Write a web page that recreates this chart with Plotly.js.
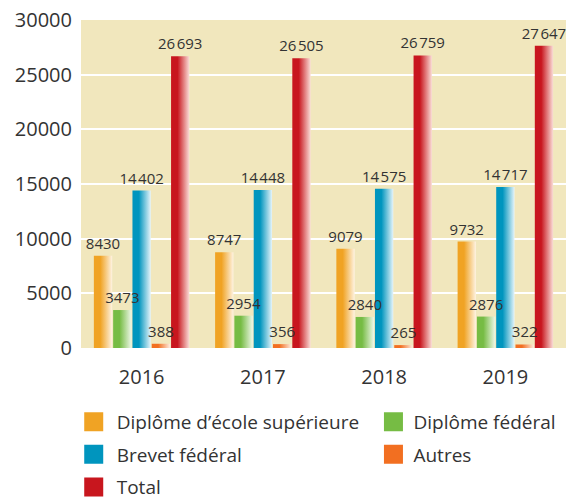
<!DOCTYPE html>
<html><head><meta charset="utf-8">
<script src="https://cdn.plot.ly/plotly-3.0.1.min.js"></script>
<style>html,body{margin:0;padding:0;background:#fff}</style>
</head><body>
<div id="chart" style="width:567px;height:499px"></div>
<script>
const years = ['2016', '2017', '2018', '2019'];
const seriesNames = ['Diplôme d’école supérieure', 'Diplôme fédéral', 'Brevet fédéral', 'Autres', 'Total'];
const ecoleSup = [8430, 8747, 9079, 9732];
const dipFederal = [3473, 2954, 2840, 2876];
const brevet = [14402, 14448, 14575, 14717];
const autres = [388, 356, 265, 322];
const total = [26693, 26505, 26759, 27647];
const yTicks = [0, 5000, 10000, 15000, 20000, 25000, 30000];

const colors = ['#F0A324', '#76BC44', '#0095BE', '#F26F21', '#C8161E'];
const lightColors = ['#FEF3E2', '#EFF7E8', '#E6F4FA', '#FDEBDF', '#FADDD7'];
const seriesValues = [ecoleSup, dipFederal, brevet, autres, total];
const legendOf = ['legend', 'legend2', 'legend', 'legend2', 'legend'];

function fmt(v) {
  const s = String(v);
  return v >= 10000 ? s.slice(0, s.length - 3) + '\u200A' + s.slice(-3) : s;
}

const traces = seriesValues.map((vals, i) => ({
  type: 'bar',
  name: seriesNames[i],
  x: years,
  y: vals,
  text: vals.map(fmt),
  textposition: 'outside',
  constraintext: 'none',
  cliponaxis: false,
  textfont: {family: 'Open Sans', size: 15, color: '#333333'},
  marker: {color: colors[i], line: {width: 0}},
  legend: legendOf[i],
  legendgroup: 'g' + i,
  hoverinfo: 'none'
}));

const layout = {
  width: 567, height: 499,
  margin: {l: 81, r: 1, t: 20, b: 151, pad: 0, autoexpand: false},
  paper_bgcolor: '#ffffff',
  plot_bgcolor: '#F1E7BD',
  font: {family: 'Open Sans', color: '#333333'},
  barmode: 'group',
  bargap: 0.204,
  bargroupgap: 0.05,
  showlegend: true,
  xaxis: {
    type: 'category',
    tickfont: {size: 20, color: '#333333'},
    ticks: '', showgrid: false, zeroline: false, showline: false,
    ticklabelstandoff: 15
  },
  yaxis: {
    range: [0, 30000],
    tickvals: yTicks,
    ticktext: yTicks.map(String),
    tickfont: {size: 20, color: '#333333'},
    ticks: '', showgrid: true, gridcolor: '#ffffff', gridwidth: 2,
    zeroline: false, showline: false,
    ticklabelstandoff: 8
  },
  legend: {
    x: -0.015, xanchor: 'left', y: -0.167, yanchor: 'top',
    orientation: 'v', font: {size: 19, color: '#333333'},
    tracegroupgap: 5, bgcolor: 'rgba(0,0,0,0)'
  },
  legend2: {
    x: 0.603, xanchor: 'left', y: -0.167, yanchor: 'top',
    orientation: 'v', font: {size: 19, color: '#333333'},
    tracegroupgap: 5, bgcolor: 'rgba(0,0,0,0)'
  }
};

const gd = document.getElementById('chart');
Plotly.newPlot(gd, traces, layout, {displayModeBar: false, staticPlot: true}).then(() => {
  const svg = gd.querySelector('svg.main-svg');
  let defs = svg.querySelector('defs');
  const NS = 'http://www.w3.org/2000/svg';
  colors.forEach((c, i) => {
    const lg = document.createElementNS(NS, 'linearGradient');
    lg.setAttribute('id', 'barGrad' + i);
    lg.setAttribute('x1', '0'); lg.setAttribute('y1', '0');
    lg.setAttribute('x2', '1'); lg.setAttribute('y2', '0');
    [[0, c], [0.35, c], [1, lightColors[i]]].forEach(([o, col]) => {
      const st = document.createElementNS(NS, 'stop');
      st.setAttribute('offset', o);
      st.setAttribute('stop-color', col);
      lg.appendChild(st);
    });
    defs.appendChild(lg);
  });
  const barlayer = gd.querySelector('.barlayer');
  gd.querySelectorAll('.barlayer .trace').forEach((t, i) => {
    t.querySelectorAll('.point path').forEach(p => {
      p.style.fill = 'url(#barGrad' + i + ')';
    });
  });
  const topLayer = document.createElementNS(NS, 'g');
  gd.querySelectorAll('.barlayer .trace').forEach(t => {
    t.querySelectorAll('text.bartext').forEach(tx => topLayer.appendChild(tx));
  });
  barlayer.appendChild(topLayer);
  gd.querySelectorAll('.legendpoints path').forEach(p => {
    p.setAttribute('d', 'M9.5,9.5H-9.5V-9.5H9.5Z');
  });
  gd.querySelectorAll('.legendtext').forEach(t => {
    t.setAttribute('x', '43');
  });
});
</script>
</body></html>
